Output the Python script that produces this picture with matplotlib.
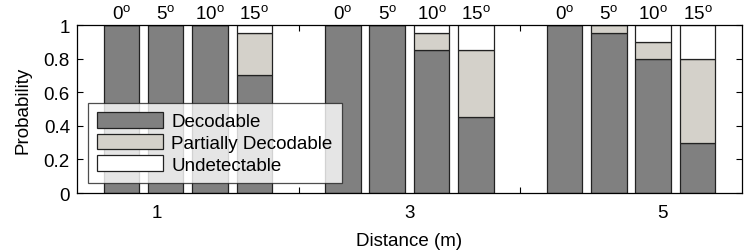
import matplotlib
matplotlib.use("Agg")
import matplotlib.pyplot as plt
import numpy as np

plt.rcParams["font.family"] = ["Liberation Sans", "DejaVu Sans"]
plt.rcParams["mathtext.default"] = "regular"

DISTANCES = ["1", "3", "5"]
ANGLES = ["0", "5", "10", "15"]
SERIES = ["Decodable", "Partially Decodable", "Undetectable"]
COLORS = ["#808080", "#d4d1ca", "#ffffff"]

# one entry per (distance, angle) bar, in order 1m 0..15, 3m 0..15, 5m 0..15
decodable = [1.0, 1.0, 1.0, 0.70,
             1.0, 1.0, 0.85, 0.45,
             1.0, 0.95, 0.80, 0.30]
partial = [0.0, 0.0, 0.0, 0.25,
           0.0, 0.0, 0.10, 0.40,
           0.0, 0.05, 0.10, 0.50]
undetect = [0.0, 0.0, 0.0, 0.05,
            0.0, 0.0, 0.05, 0.15,
            0.0, 0.0, 0.10, 0.20]

FS = 13.5

# bar slots: 4 bars per group, one empty slot between groups
xpos = np.array([g * 5 + a + 1 for g in range(len(DISTANCES)) for a in range(len(ANGLES))])

fig = plt.figure(figsize=(7.47, 2.51), dpi=100)
ax = fig.add_axes([0.103, 0.227, 0.890, 0.669])

bottom = np.zeros(len(xpos))
for name, vals, col in zip(SERIES, [decodable, partial, undetect], COLORS):
    vals = np.array(vals)
    ax.bar(xpos, vals, width=0.8, bottom=bottom, color=col,
           edgecolor="#222222", linewidth=0.9, label=name, zorder=2)
    bottom += vals

# angle labels above each bar
for i, x in enumerate(xpos):
    ax.text(x, 1.075, ANGLES[i % len(ANGLES)] + "$^{o}$", ha="center",
            va="center", fontsize=FS, clip_on=False)

ax.set_xlim(0, 15)
ax.set_ylim(0, 1)
ax.set_yticks([0, 0.2, 0.4, 0.6, 0.8, 1.0])
ax.set_yticklabels(["0", "0.2", "0.4", "0.6", "0.8", "1"], fontsize=FS)

# distance labels (major, no tick mark) and inner tick marks (minor)
ax.set_xticks([1.8, 7.5, 13.2])
ax.set_xticklabels(DISTANCES, fontsize=FS)
ax.set_xticks([5, 10], minor=True)
ax.tick_params(axis="x", which="major", length=0, pad=8)
ax.tick_params(axis="x", which="minor", direction="in", length=4,
               top=True, bottom=True, width=0.8)
ax.tick_params(axis="y", direction="in", length=4, right=True, width=0.8,
               pad=5)

for sp in ax.spines.values():
    sp.set_linewidth(0.9)

ax.set_xlabel("Distance (m)", fontsize=FS, labelpad=8)
ax.set_ylabel("Probability", fontsize=FS, labelpad=9)

leg = ax.legend(loc="lower left", bbox_to_anchor=(0.016, 0.06),
                fontsize=FS, frameon=True, fancybox=False,
                handlelength=3.5, handleheight=0.9, borderpad=0.5,
                labelspacing=0.18, handletextpad=0.45, borderaxespad=0)
leg.get_frame().set_edgecolor("#222222")
leg.get_frame().set_linewidth(0.9)
leg.set_zorder(5)

fig.savefig("out.png", dpi=100)
